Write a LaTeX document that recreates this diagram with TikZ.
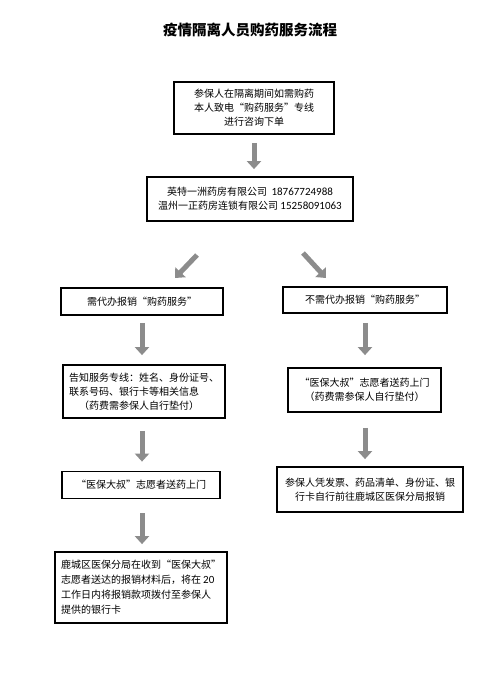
\documentclass[tikz,border=0pt]{standalone}
\usepackage{fontspec}
\newfontfamily\cjk{Noto Sans CJK SC}
\newfontfamily\num{Carlito}
\usetikzlibrary{arrows.meta}
\begin{document}
\begin{tikzpicture}[x=1pt,y=-1pt,
  box/.style={draw=black, line width=1.8pt, inner sep=0pt, align=center,
    font=\cjk\fontsize{10}{14}\selectfont},
  garrow/.style={draw=gray!90, line width=5pt, -{Triangle[width=14pt,length=8pt]}},
  titlestyle/.style={font=\cjk\bfseries\fontsize{14.5}{16}\selectfont}
]
\fill[white] (0,0) rectangle (503,677);
\useasboundingbox (0,0) rectangle (503,677);

\node[titlestyle] (title) at (250,30) {疫情隔离人员购药服务流程};

\node[box, minimum width=160pt, minimum height=52pt] (b1) at (254,108)
  {参保人在隔离期间如需购药\\本人致电“购药服务”专线\\进行咨询下单};
\node[box, minimum width=206pt, minimum height=44pt] (b2) at (250,199)
  {英特一洲药房有限公司\ \ {\num\fontsize{11}{14}\selectfont 18767724988}\\温州一正药房连锁有限公司 {\num\fontsize{11}{14}\selectfont 15258091063}};

\node[box, minimum width=162pt, minimum height=27pt] (bL1) at (142,301.5)
  {需代办报销“购药服务”};
\node[box, minimum width=164pt, minimum height=26pt] (bR1) at (365,300)
  {不需代办报销“购药服务”};

\node[box, minimum width=162pt, minimum height=53pt, align=left] (bL2) at (144,391.5)
  {告知服务专线：姓名、身份证号、\\联系号码、银行卡等相关信息\\\hspace*{10pt}（药费需参保人自行垫付）};
\node[box, minimum width=153pt, minimum height=44pt] (bR2) at (364.5,390)
  {“医保大叔”志愿者送药上门\\（药费需参保人自行垫付）};

\node[box, minimum width=158pt, minimum height=27pt] (bL3) at (141,485)
  {“医保大叔”志愿者送药上门};
\node[box, minimum width=186pt, minimum height=45pt] (bR3) at (370,489.5)
  {参保人凭发票、药品清单、身份证、银\\行卡自行前往鹿城区医保分局报销};

\node[box, minimum width=172pt, minimum height=71pt, align=left,
  font=\cjk\fontsize{10}{15}\selectfont] (bL4) at (141,587.5)
  {鹿城区医保分局在收到“医保大叔”\\志愿者送达的报销材料后，将在 {\num\fontsize{11}{15}\selectfont 20}\\工作日内将报销款项拨付至参保人\\提供的银行卡};

\coordinate (dl1) at (197,255);
\coordinate (dl2) at (175,278);
\coordinate (dr1) at (303,253);
\coordinate (dr2) at (326,278);

\draw[garrow, shorten <=8pt, shorten >=7pt] (b1.south) -- (b1.south |- b2.north);
\draw[garrow] (dl1) -- (dl2);
\draw[garrow] (dr1) -- (dr2);
\draw[garrow, shorten <=7pt, shorten >=9pt] (bL1.south) -- (bL1.south |- bL2.north);
\draw[garrow, shorten <=12pt, shorten >=9pt] (bL2.south -| bL1.south) -- (bL1.south |- bL3.north);
\draw[garrow, shorten <=14pt, shorten >=7pt] (bL3.south -| bL1.south) -- (bL1.south |- bL4.north);
\draw[garrow, shorten <=9pt, shorten >=12pt] (bR1.south) -- (bR1.south |- bR2.north);
\draw[garrow, shorten <=15pt, shorten >=7pt] (bR2.south -| bR1.south) -- (bR1.south |- bR3.north);
\end{tikzpicture}
\end{document}
